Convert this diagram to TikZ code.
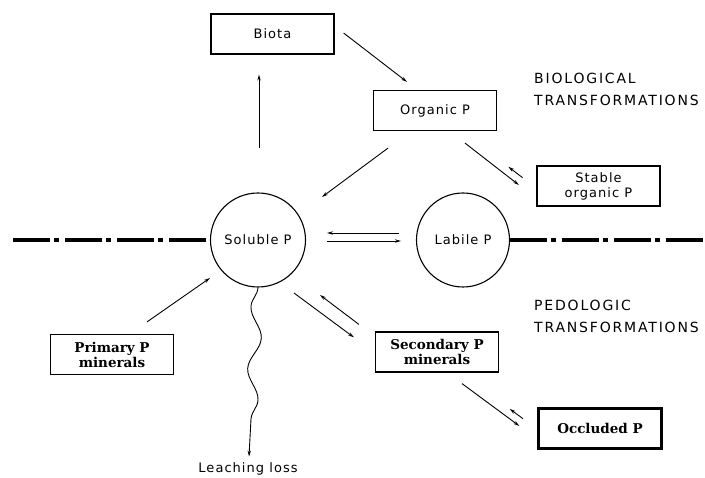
\documentclass[tikz,border=0pt]{standalone}
\usepackage{fontspec}
\usetikzlibrary{shapes.geometric,arrows.meta,calc,decorations.pathmorphing}
\newfontfamily\lblfont[LetterSpace=8]{DejaVu Sans}
\newfontfamily\headfont[LetterSpace=13]{DejaVu Sans}
\newfontfamily\minfont{DejaVu Serif}
\begin{document}
\begin{tikzpicture}[x=1pt,y=-1pt,
  lbl/.style={font=\lblfont\fontsize{13}{15}\selectfont},
  box/.style={draw, line width=1.2pt, minimum width=123pt, minimum height=40pt, inner sep=0pt, align=center, lbl},
  thickbox/.style={box, line width=2.2pt},
  minbox/.style={box, font=\minfont\bfseries\fontsize{13.5}{15}\selectfont},
  pool/.style={draw, ellipse, line width=1.1pt, minimum width=93pt, minimum height=94pt, inner sep=0pt, lbl},
  arr/.style={line width=0.9pt, -{Stealth[length=6pt,width=3.4pt]}},
  head/.style={font=\headfont\fontsize{14}{22}\selectfont, align=left, anchor=west, inner sep=0pt},
  boundary/.style={line width=4.5pt, dash pattern=on 37pt off 4pt on 5pt off 6pt}
]
\fill[white] (0,0) rectangle (705,478);
\useasboundingbox (0,0) rectangle (705,478);

\node[box] (biota) at (272.5,34) {Biota};
\node[box] (org) at (435,110.5) {Organic P};
\node[thickbox] (stab) at (598.5,186) {Stable\\organic P};
\node[pool] (sol) at (258,240) {Soluble P};
\node[pool] (lab) at (463,240) {Labile P};
\node[minbox] (prim) at (112,354.5) {Primary P\\minerals};
\node[minbox] (sec) at (437,352) {Secondary P\\minerals};
\node[minbox, line width=2.2pt] (occ) at (600,428.5) {Occluded P};
\node[lbl, inner sep=0pt] (leach) at (248,469) {Leaching loss};
\node[head] (bio) at (534,89) {BIOLOGICAL\\TRANSFORMATIONS};
\node[head] (ped) at (534,316) {PEDOLOGIC\\TRANSFORMATIONS};

\coordinate (bl) at (13,240);
\coordinate (br) at (705,240);
\draw[boundary] (bl) -- (sol.west);
\draw[boundary] (lab.east) -- (br);

\draw[arr] ($(sol.north)+(1,-44)$) -- ($(biota.south)+(-13.5,20)$);
\draw[arr] ($(biota.east)+(9,-1)$) -- ($(org.north)+(-28,-8)$);
\draw[arr] ($(org.south)+(-47,17)$) -- ($(sol.center)+(64,-43)$);
\draw[arr] ($(org.south)+(30,12)$) -- ($(stab.west)+(-17,-1)$);
\draw[arr] ($(stab.west)+(-13.2,-8.2)$) -- ($(stab.west)+(-27.5,-19.2)$);
\draw[arr] ($(prim.north)+(35,-12)$) -- ($(sol.center)+(-48,38)$);
\draw[arr] ($(lab.west)+(-17,-7)$) -- ($(sol.east)+(21,-7)$);
\draw[arr] ($(sol.east)+(21,1)$) -- ($(lab.west)+(-15,1)$);
\draw[arr] ($(sol.center)+(36,53)$) -- ($(sec.north west)+(-21,6)$);
\draw[arr] ($(sec.north west)+(-16,-7)$) -- ($(sol.center)+(62,55)$);
\draw[arr] ($(sec.south)+(25,11)$) -- ($(occ.west)+(-18,-2.5)$);
\draw[arr] ($(occ.west)+(-14.4,-9.8)$) -- ($(occ.west)+(-27.7,-19.6)$);
\draw[arr, decorate, decoration={snake, segment length=62pt, amplitude=-6pt, pre length=0pt, post length=10pt}] (sol.south) -- ($(leach.north)+(1,-6)$);
\end{tikzpicture}
\end{document}
